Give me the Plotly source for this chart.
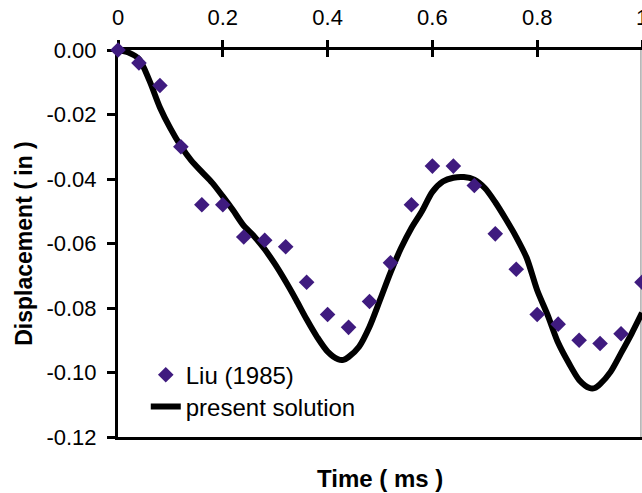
import plotly.graph_objects as go

# Liu (1985) data points
liu_t = [0.00, 0.04, 0.08, 0.12, 0.16, 0.20, 0.24, 0.28, 0.32, 0.36, 0.40, 0.44, 0.48,
         0.52, 0.56, 0.60, 0.64, 0.68, 0.72, 0.76, 0.80, 0.84, 0.88, 0.92, 0.96, 1.00]
liu_d = [0.000, -0.004, -0.011, -0.030, -0.048, -0.048, -0.058, -0.059, -0.061, -0.072,
         -0.082, -0.086, -0.078, -0.066, -0.048, -0.036, -0.036, -0.042, -0.057, -0.068,
         -0.082, -0.085, -0.090, -0.091, -0.088, -0.072]

# present solution curve
sol_t = [0.00, 0.02, 0.04, 0.06, 0.08, 0.10, 0.12, 0.14, 0.16, 0.18, 0.20, 0.22, 0.24,
         0.26, 0.28, 0.30, 0.32, 0.34, 0.36, 0.38, 0.40, 0.42, 0.43, 0.44, 0.46, 0.48,
         0.50, 0.52, 0.54, 0.56, 0.58, 0.60, 0.62, 0.64, 0.66, 0.68, 0.70, 0.72, 0.74,
         0.76, 0.78, 0.80, 0.82, 0.84, 0.86, 0.88, 0.90, 0.91, 0.92, 0.94, 0.96, 0.98, 1.00]
sol_d = [0.0000, -0.0008, -0.0028, -0.0095, -0.0178, -0.0243, -0.0298, -0.0343, -0.0378,
         -0.0412, -0.0454, -0.0498, -0.0545, -0.0578, -0.0618, -0.0665, -0.0718, -0.0775,
         -0.0835, -0.0890, -0.0935, -0.0959, -0.0961, -0.0952, -0.0920, -0.0858, -0.0775,
         -0.0690, -0.0615, -0.0552, -0.0500, -0.0440, -0.0408, -0.0396, -0.0394, -0.0402,
         -0.0428, -0.0472, -0.0524, -0.0580, -0.0645, -0.0745, -0.0822, -0.0908, -0.0970,
         -0.1023, -0.1048, -0.1048, -0.1036, -0.0998, -0.0940, -0.0880, -0.0815]

x_ticks = [0, 0.2, 0.4, 0.6, 0.8, 1.0]
x_tick_labels = ["0", "0.2", "0.4", "0.6", "0.8", "1"]
y_ticks = [0.00, -0.02, -0.04, -0.06, -0.08, -0.10, -0.12]
y_tick_labels = ["0.00", "-0.02", "-0.04", "-0.06", "-0.08", "-0.10", "-0.12"]

FONT = "Liberation Sans, Arial, sans-serif"
PURPLE = "#3f1b7f"

fig = go.Figure()
fig.add_trace(go.Scatter(
    x=sol_t, y=sol_d, mode="lines", name="present solution",
    line=dict(color="black", width=6, shape="spline", smoothing=0.8),
    cliponaxis=False, legend="legend2"))
fig.add_trace(go.Scatter(
    x=liu_t, y=liu_d, mode="markers", name="Liu (1985)",
    marker=dict(symbol="diamond", size=12, color=PURPLE),
    cliponaxis=False, legend="legend"))
# helper trace for the overlay axis that draws the inner half of the x ticks
fig.add_trace(go.Scatter(x=[0], y=[0], xaxis="x2", mode="markers",
                         marker=dict(opacity=0), showlegend=False, hoverinfo="skip"))

fig.update_layout(
    width=642, height=493,
    margin=dict(l=118, r=0, t=50, b=56),
    paper_bgcolor="white", plot_bgcolor="white",
    font=dict(family=FONT, size=22, color="black"),
    showlegend=True,
    xaxis=dict(
        range=[0, 1], side="top", tickvals=x_ticks, ticktext=x_tick_labels,
        ticks="outside", ticklen=7, tickwidth=3, tickcolor="black",
        showline=True, linecolor="black", linewidth=3, mirror=True,
        showgrid=False, zeroline=False, automargin=False,
        tickfont=dict(size=22, family=FONT), ticklabelstandoff=6,
        ticklabeloverflow="allow",
        layer="below traces"),
    xaxis2=dict(
        range=[0, 1], overlaying="x", side="top", tickvals=x_ticks,
        ticks="inside", ticklen=7, tickwidth=3, tickcolor="black",
        showticklabels=False, showline=False, showgrid=False, zeroline=False,
        automargin=False, layer="below traces"),
    yaxis=dict(
        range=[-0.12, 0], tickvals=y_ticks, ticktext=y_tick_labels,
        ticks="outside", ticklen=8, tickwidth=3, tickcolor="black",
        showline=True, linecolor="black", linewidth=3, mirror=False,
        showgrid=False, zeroline=False, automargin=False,
        tickfont=dict(size=22, family=FONT), ticklabelstandoff=6,
        title=dict(text="<b>Displacement ( in )</b>", font=dict(size=23, family=FONT),
                   standoff=8),
        layer="below traces"),
    legend=dict(x=0.053, y=0.160, xanchor="left", yanchor="middle",
                bgcolor="rgba(0,0,0,0)", font=dict(size=24, family=FONT)),
    legend2=dict(x=0.053, y=0.0775, xanchor="left", yanchor="middle",
                 bgcolor="rgba(0,0,0,0)", font=dict(size=24, family=FONT)),
    annotations=[dict(text="<b>Time ( ms )</b>", xref="paper", yref="paper",
                      x=0.5, y=-0.106, xanchor="center", yanchor="middle",
                      showarrow=False, font=dict(size=24, family=FONT))],
    shapes=[dict(type="line", xref="paper", yref="paper", x0=0.998, x1=0.998,
                 y0=0, y1=1, line=dict(color="#808080", width=1), layer="below")],
)

fig.write_html("out.html",
               config={"displayModeBar": False},
               post_script="document.body.style.margin='0';document.body.style.overflow='hidden';")
